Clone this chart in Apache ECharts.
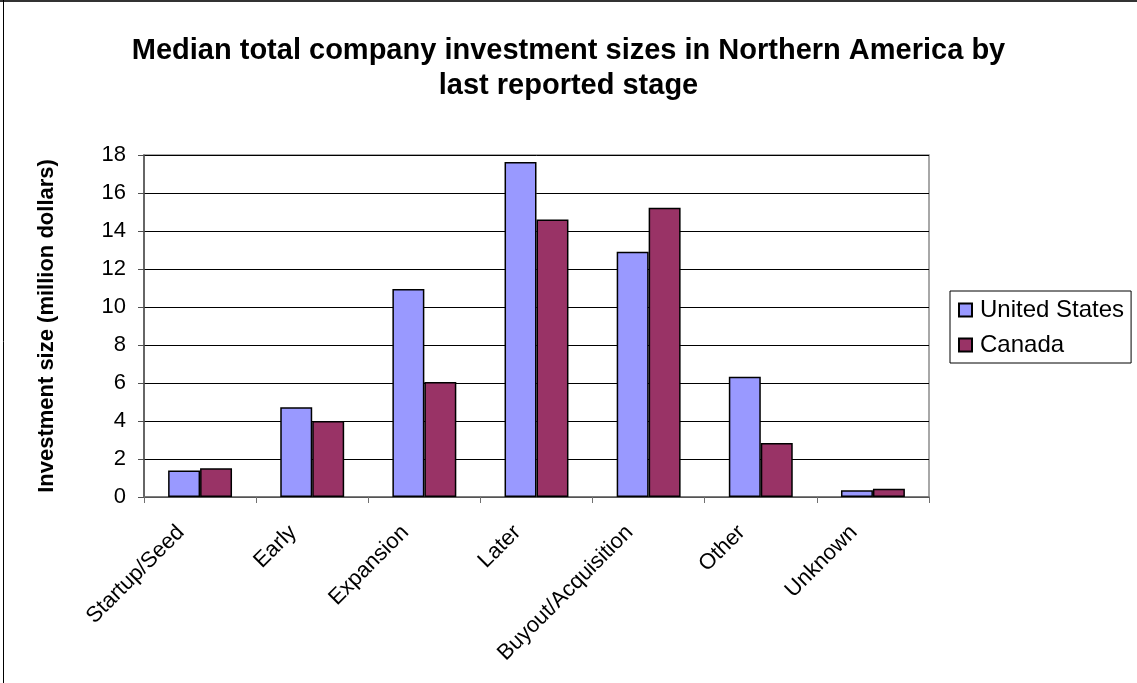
<!DOCTYPE html>
<html>
<head>
<meta charset="utf-8">
<script src="https://cdn.jsdelivr.net/npm/echarts@6/dist/echarts.min.js"></script>
<style>
  html, body { margin: 0; padding: 0; background: #fff; }
  #chart { width: 1137px; height: 683px; }
</style>
</head>
<body>
<div id="chart"></div>
<script>
// Median investment size by last reported stage (million dollars)
const stages = ['Startup/Seed', 'Early', 'Expansion', 'Later', 'Buyout/Acquisition', 'Other', 'Unknown'];
const unitedStates = [1.40, 4.72, 10.95, 17.63, 12.91, 6.33, 0.35];
const canada = [1.51, 4.00, 6.05, 14.61, 15.23, 2.84, 0.44];
const yTicks = { min: 0, max: 18, interval: 2 };

const FONT = '"Liberation Sans", Arial, sans-serif';

const chart = echarts.init(document.getElementById('chart'), null, { renderer: 'canvas' });

chart.setOption({
  backgroundColor: '#ffffff',
  animation: false,
  graphic: [
    { type: 'line', shape: { x1: 0, y1: 1, x2: 1137, y2: 1 }, style: { stroke: '#333', lineWidth: 2 } },
    { type: 'line', shape: { x1: 3.5, y1: 0, x2: 3.5, y2: 683 }, style: { stroke: '#000', lineWidth: 1 } }
  ],
  title: {
    text: 'Median total company investment sizes in Northern America by\nlast reported stage',
    left: 'center',
    top: 28,
    textStyle: { fontFamily: FONT, fontSize: 29, fontWeight: 'bold', color: '#000', lineHeight: 35 }
  },
  legend: {
    orient: 'vertical',
    left: 950,
    top: 291,
    padding: [7, 7, 6, 8],
    itemWidth: 13,
    itemHeight: 13,
    itemGap: 11,
    icon: 'rect',
    borderColor: '#000',
    borderWidth: 1,
    textStyle: { fontFamily: FONT, fontSize: 24, color: '#000', padding: [0, 0, 0, 3] },
    data: ['United States', 'Canada']
  },
  grid: {
    left: 144,
    right: 208,
    top: 155,
    bottom: 186,
    show: true,
    borderColor: '#8c8c8c',
    borderWidth: 1.5,
    containLabel: false
  },
  xAxis: {
    type: 'category',
    data: stages,
    axisLine: { lineStyle: { color: '#707070', width: 1.5 } },
    axisTick: { show: true, inside: false, length: 6, alignWithLabel: false, lineStyle: { color: '#707070' } },
    axisLabel: {
      interval: 0,
      rotate: 45,
      margin: 13,
      padding: [0, 27, 0, 0],
      fontFamily: FONT,
      fontSize: 22,
      color: '#000'
    },
    splitLine: { show: false }
  },
  yAxis: {
    type: 'value',
    min: yTicks.min,
    max: yTicks.max,
    interval: yTicks.interval,
    name: 'Investment size (million dollars)',
    nameLocation: 'middle',
    nameGap: 86,
    nameTextStyle: { fontFamily: FONT, fontSize: 22, fontWeight: 'bold', color: '#000' },
    axisLine: { show: true, lineStyle: { color: '#505050', width: 1.5 } },
    axisTick: { show: true, inside: false, length: 6, lineStyle: { color: '#505050' } },
    axisLabel: { margin: 18, fontFamily: FONT, fontSize: 22, color: '#000' },
    splitLine: { show: true, lineStyle: { color: '#000', width: 1 } }
  },
  series: [
    {
      name: 'United States',
      type: 'bar',
      data: unitedStates,
      barGap: '0%',
      barCategoryGap: '43%',
      itemStyle: { color: '#9999ff', borderColor: '#000', borderWidth: 1.5 }
    },
    {
      name: 'Canada',
      type: 'bar',
      data: canada,
      barGap: '0%',
      barCategoryGap: '43%',
      itemStyle: { color: '#993366', borderColor: '#000', borderWidth: 1.5 }
    }
  ]
});
</script>
</body>
</html>
